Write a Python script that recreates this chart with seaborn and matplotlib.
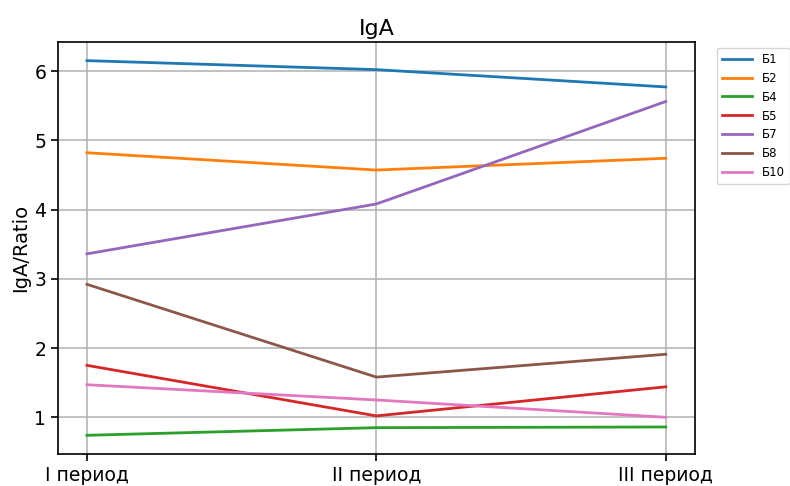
import pandas as pd
import matplotlib.pyplot as plt
import seaborn as sns

# Данные
periods = ['I период', 'II период', 'III период']
groups = ['Б1', 'Б2', 'Б4', 'Б5', 'Б7', 'Б8', 'Б10']
b1 = [6.15, 6.02, 5.77]
b2 = [4.82, 4.57, 4.74]
b4 = [0.74, 0.85, 0.86]
b5 = [1.75, 1.02, 1.44]
b7 = [3.36, 4.08, 5.56]
b8 = [2.92, 1.58, 1.91]
b10 = [1.47, 1.25, 1.00]

series = [b1, b2, b4, b5, b7, b8, b10]
rows = []
for g, vals in zip(groups, series):
    for p, v in zip(periods, vals):
        rows.append({'period': p, 'group': g, 'ratio': v})
df = pd.DataFrame(rows)

fig = plt.figure(figsize=(7.9, 4.86), dpi=100)
ax = fig.add_axes([0.0734, 0.0658, 0.806, 0.848])

sns.lineplot(data=df, x='period', y='ratio', hue='group', hue_order=groups,
             palette=sns.color_palette('tab10', len(groups)), linewidth=2, ax=ax)

ax.set_title('IgA', fontsize=16, pad=5)
ax.set_xlabel('')
ax.set_ylabel('IgA/Ratio', fontsize=14, labelpad=3)
ax.tick_params(labelsize=13.5, width=1.2, length=5)
for s in ax.spines.values():
    s.set_linewidth(1.2)
ax.grid(True, color='#b0b0b0', linewidth=1.1)
ax.legend(bbox_to_anchor=(1.035, 0.985), loc='upper left', fontsize=8.5,
          handlelength=2.6, labelspacing=0.5, borderaxespad=0)

fig.savefig('out.png', dpi=100)
